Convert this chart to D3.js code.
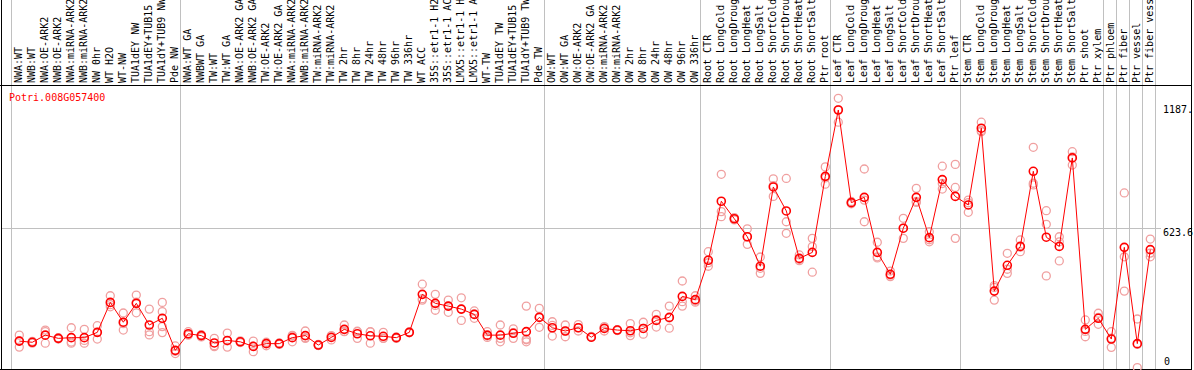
<!DOCTYPE html>
<html>
<head>
<meta charset="utf-8">
<script src="https://cdn.jsdelivr.net/npm/d3@7"></script>
<style>
  body { margin: 0; background: #fff; }
  svg { display: block; }
  .lbl { font-family: "DejaVu Sans Mono", "Liberation Mono", monospace; font-size: 10px; }
</style>
</head>
<body>
<div id="chart"></div>
<script>
// sample names, left to right
var samples = [
  "NWA:WT", "NWB:WT", "NWA:OE-ARK2", "NWB:OE-ARK2", "NWA:miRNA-ARK2", "NWB:miRNA-ARK2", "NW 0hr",
  "WT H2O", "WT-NW", "TUA1dEY NW", "TUA1dEY+TUB15", "TUA1dY+TUB9 NW", "Pde NW",
  "NWA:WT GA", "NWBWT GA", "TW:WT", "TW:WT GA", "NWA:OE-ARK2 GA", "NWB:OE-ARK2 GA", "TW:OE-ARK2",
  "TW:OE-ARK2 GA", "NWA:miRNA-ARK2", "NWB:miRNA-ARK2", "TW:miRNA-ARK2", "TW:miRNA-ARK2 GA",
  "TW 2hr", "TW 8hr", "TW 24hr", "TW 48hr", "TW 96hr", "TW 336hr", "WT ACC",
  "35S::etr1-1 H2O", "35S::etr1-1 ACC", "LMX5::etr1-1 H2O", "LMX5::etr1-1 ACC",
  "WT-TW", "TUA1dEY TW", "TUA1dEY+TUB15", "TUA1dY+TUB9 TW", "Pde TW",
  "OW:WT", "OW:WT GA", "OW:OE-ARK2", "OW:OE-ARK2 GA", "OW:miRNA-ARK2", "OW:miRNA-ARK2",
  "OW 2hr", "OW 8hr", "OW 24hr", "OW 48hr", "OW 96hr", "OW 336hr",
  "Root CTR", "Root LongCold", "Root LongDrought", "Root LongHeat", "Root LongSalt",
  "Root ShortCold", "Root ShortDrought", "Root ShortHeat", "Root ShortSalt", "Ptr root",
  "Leaf CTR", "Leaf LongCold", "Leaf LongDrought", "Leaf LongHeat", "Leaf LongSalt",
  "Leaf ShortCold", "Leaf ShortDrought", "Leaf ShortHeat", "Leaf ShortSalt", "Ptr leaf",
  "Stem CTR", "Stem LongCold", "Stem LongDrought", "Stem LongHeat", "Stem LongSalt",
  "Stem ShortCold", "Stem ShortDrought", "Stem ShortHeat", "Stem ShortSalt", "Ptr shoot", "Ptr xylem",
  "Ptr phloem", "Ptr fiber", "Ptr vessel", "Ptr fiber vessel"
];

// first sample of each experiment block
var groupStarts = [0, 13, 41, 53, 63, 73, 84, 85, 86, 87];

var geneId = "Potri.008G057400";

// mean expression per sample
var means = [
  134, 129, 160, 146, 149, 149, 172, 302, 216, 298, 204, 233, 94,
  166, 158, 126, 137, 131, 111, 123, 123, 149, 158, 117, 150, 185, 166, 157, 155, 149, 172,
  337, 298, 286, 273, 250, 160, 160, 168, 175, 237,
  192, 178, 192, 151, 189, 182, 179, 189, 224, 237, 328, 314,
  485, 741, 665, 587, 459, 803, 699, 493, 519, 849,
  1137, 735, 758, 519, 424, 624, 758, 583, 835, 762,
  725, 1058, 351, 463, 545, 871, 585, 545, 929, 185, 233,
  143, 541, 123, 531
];

// individual replicates per sample
var replicates = [
  [160, 108, 135], [129, 125, 133], [182, 175, 125], [143, 146, 149], [192, 125, 130],
  [185, 125, 137], [201, 143, 172], [331, 283, 292], [256, 182, 210], [334, 257, 303],
  [273, 175, 161], [302, 262, 197, 171], [113, 80, 90],
  [175, 160, 163], [162, 152, 160], [146, 114, 110], [169, 108, 135], [135, 128, 131],
  [134, 88, 112], [129, 114, 126], [123, 120, 126], [157, 131, 159], [178, 146, 149],
  [120, 115, 116], [158, 139, 155], [204, 175, 176], [175, 146, 177], [175, 125, 174],
  [172, 146, 147], [146, 149, 152], [172, 170, 174], [381, 312, 318], [337, 268, 289],
  [312, 259, 286], [322, 224, 273], [265, 233, 252], [175, 150, 156], [204, 131, 146],
  [187, 146, 171], [286, 140, 131, 143], [276, 194, 240],
  [218, 156, 202], [204, 153, 177], [192, 178, 206], [150, 152, 154], [197, 178, 193],
  [182, 180, 184], [210, 158, 170], [216, 164, 189], [250, 195, 227], [286, 190, 235],
  [395, 286, 305], [331, 308, 303],
  [522, 459, 474], [858, 696, 674], [660, 665, 670], [621, 554, 586], [499, 428, 450],
  [838, 762, 809], [840, 652, 602], [508, 483, 488], [580, 433, 544], [890, 815, 842],
  [1187.8, 1084, 1139], [735, 730, 740], [881, 746, 652], [563, 500, 495], [438, 414, 420],
  [667, 580, 624], [797, 736, 740], [609, 565, 574], [893, 794, 818], [901, 801, 580],
  [746, 693, 735], [1084, 1043, 1047], [375, 312, 367], [515, 428, 446], [573, 522, 542],
  [975, 819, 812], [700, 641, 417], [587, 565, 482], [956, 898, 933], [226, 153, 176],
  [255, 207, 237],
  [175, 107, 147], [777, 500, 351], [230, 19, 120], [577, 500, 516]
];

var width = 1194, height = 370;
var headBottom = 85, plotBottom = 369, frameRight = 1191;

var svg = d3.select("#chart").append("svg")
  .attr("width", width)
  .attr("height", height);

var x = d3.scaleBand()
  .domain(d3.range(samples.length))
  .range([12.8, 12.8 + 13 * samples.length]);

var maxVal = d3.max(replicates, function(r) { return d3.max(r); });
var y = d3.scaleLinear()
  .domain([0, 1247.2])
  .range([372, 84.6]);

function cx(i) { return x(i) + x.bandwidth() / 2; }
function px(v) { return Math.round(v) + 0.5; }

// vertical separators between experiment blocks
var seps = groupStarts.map(function(i) { return x(i) - 2; });
seps.push(x.range()[1] - 2);

svg.append("g").selectAll("line")
  .data(seps)
  .enter().append("line")
  .attr("x1", function(d) { return px(d); })
  .attr("x2", function(d) { return px(d); })
  .attr("y1", 0)
  .attr("y2", plotBottom)
  .attr("stroke", "#c0c0c0")
  .attr("stroke-width", 1);

// middle gridline
svg.append("line")
  .attr("x1", 2).attr("x2", 1161)
  .attr("y1", px(y(623.6))).attr("y2", px(y(623.6)))
  .attr("stroke", "#c0c0c0");

// frame
svg.append("line").attr("x1", 0).attr("x2", frameRight + 1)
  .attr("y1", headBottom + 0.5).attr("y2", headBottom + 0.5).attr("stroke", "#000");
svg.append("line").attr("x1", 0).attr("x2", frameRight + 1)
  .attr("y1", plotBottom + 0.5).attr("y2", plotBottom + 0.5).attr("stroke", "#000");
svg.append("line").attr("x1", 1.5).attr("x2", 1.5)
  .attr("y1", 0).attr("y2", plotBottom + 1).attr("stroke", "#000");
svg.append("line").attr("x1", frameRight + 0.5).attr("x2", frameRight + 0.5)
  .attr("y1", 0).attr("y2", plotBottom + 1).attr("stroke", "#000");

// sample names, rotated (long ones run off the top, as in the source image)
svg.append("g").selectAll("text")
  .data(samples)
  .enter().append("text")
  .attr("class", "lbl")
  .attr("transform", function(d, i) { return "translate(" + (cx(i) - 1) + ",83) rotate(-90)"; })
  .attr("dy", "0.35em")
  .attr("fill", "#000")
  .text(function(d) { return d; });

// y labels on the right
svg.append("text").attr("class", "lbl")
  .attr("x", 1163).attr("y", y(maxVal) + 15)
  .text(maxVal.toFixed(1).slice(0, 5));
svg.append("text").attr("class", "lbl")
  .attr("x", 1163).attr("y", y(623.6) + 8)
  .text("623.6");
svg.append("text").attr("class", "lbl")
  .attr("x", 1164).attr("y", y(0) - 7)
  .text("0");

// gene id
svg.append("text").attr("class", "lbl")
  .attr("x", 9).attr("y", 101)
  .attr("fill", "#ff0000")
  .text(geneId);

// replicate points
var repPts = [];
replicates.forEach(function(r, i) {
  r.forEach(function(v) { repPts.push({ i: i, v: v }); });
});

svg.append("g").selectAll("circle")
  .data(repPts)
  .enter().append("circle")
  .attr("cx", function(d) { return cx(d.i); })
  .attr("cy", function(d) { return y(d.v); })
  .attr("r", 4)
  .attr("fill", "none")
  .attr("stroke", "#f0a0a0")
  .attr("stroke-width", 1.3);

// mean line
var line = d3.line()
  .x(function(d, i) { return cx(i); })
  .y(function(d) { return y(d); });

svg.append("path")
  .datum(means)
  .attr("d", line)
  .attr("fill", "none")
  .attr("stroke", "#ff0000")
  .attr("stroke-width", 1);

svg.append("g").selectAll("circle")
  .data(means)
  .enter().append("circle")
  .attr("cx", function(d, i) { return cx(i); })
  .attr("cy", function(d) { return y(d); })
  .attr("r", 4)
  .attr("fill", "none")
  .attr("stroke", "#ff0000")
  .attr("stroke-width", 1.6);
</script>
</body>
</html>
